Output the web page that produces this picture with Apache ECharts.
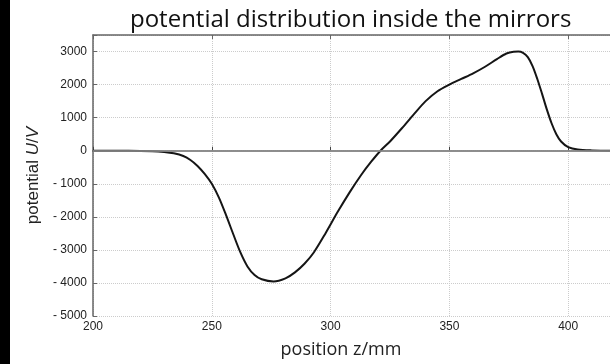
<!DOCTYPE html>
<html>
<head>
<meta charset="utf-8">
<script src="https://cdn.jsdelivr.net/npm/echarts@6/dist/echarts.min.js"></script>
<style>
  html, body { margin: 0; padding: 0; background: #fff; }
  #chart { width: 610px; height: 364px; }
</style>
</head>
<body>
<div id="chart"></div>
<script>
// position z in mm and potential U in V
const positions = [200, 215, 225, 230, 234, 238, 241, 244, 247, 250, 253, 256, 259, 262, 265, 268, 271, 276, 281, 285, 289, 293, 298, 303, 308, 313, 317, 321, 325, 330, 335, 340, 345, 350, 355, 360, 365, 370, 374, 377, 379, 381, 383, 385, 387, 389, 391, 393, 395, 397, 400, 404, 410, 420, 450]
const potentials = [0, 0, -15, -40, -80, -160, -280, -460, -700, -1000, -1420, -1950, -2520, -3070, -3500, -3760, -3890, -3955, -3860, -3680, -3420, -3070, -2480, -1850, -1260, -720, -340, 0, 280, 680, 1100, 1500, 1800, 2000, 2170, 2340, 2540, 2770, 2940, 2995, 3000, 2960, 2830, 2560, 2170, 1720, 1250, 830, 500, 280, 110, 35, 10, 0, 0]
const yTicks = [-5000, -4000, -3000, -2000, -1000, 0, 1000, 2000, 3000]

window.addEventListener("DOMContentLoaded", () => {
    const chart = echarts.init(document.getElementById('chart'))

    const labelFont = '"Liberation Sans", Arial, sans-serif'
    const titleFont = '"Open Sans", "Noto Sans", sans-serif'
    const frame = { show: true, lineStyle: { color: '#444', width: 1.5 } }

    chart.setOption({
        animation: false,
        title: {
            text: 'potential distribution inside the mirrors',
            left: 125,
            top: 3,
            textStyle: { fontFamily: titleFont, fontWeight: 'normal', fontSize: 24, color: '#111' }
        },
        // plot runs past the right edge of the picture, as in the reference crop
        grid: { left: 93, top: 35, right: -77, bottom: 48, outerBoundsMode: 'none', containLabel: false },
        xAxis: [
            {
                type: 'value',
                min: 200,
                max: 450,
                interval: 50,
                name: 'position z/mm',
                nameLocation: 'middle',
                nameGap: 25,
                nameTextStyle: { fontFamily: titleFont, fontSize: 18, color: '#222', padding: [0, 98, 0, 0] },
                axisLine: frame,
                axisTick: { inside: true, length: 4, lineStyle: { color: '#444' } },
                axisLabel: { fontFamily: labelFont, fontSize: 12, color: '#222', margin: 5 },
                splitLine: { show: true, lineStyle: { type: 'dotted', color: '#ccc' } }
            },
            {
                type: 'value',
                position: 'top',
                min: 200,
                max: 450,
                interval: 50,
                axisLine: { show: true, lineStyle: { color: '#666', width: 1.5 } },
                axisTick: { inside: true, length: 4, lineStyle: { color: '#666' } },
                axisLabel: { show: false },
                splitLine: { show: false }
            }
        ],
        yAxis: {
            type: 'value',
            min: -5000,
            max: 3500,
            interval: 1000,
            name: '{n|potential }{i|U}{n|/}{i|V}',
            nameLocation: 'middle',
            nameGap: 48,
            nameTextStyle: {
                rich: {
                    n: { fontFamily: labelFont, fontSize: 17, color: '#222' },
                    i: { fontFamily: labelFont, fontSize: 17, color: '#222', fontStyle: 'italic' }
                }
            },
            axisLine: { show: true, lineStyle: { color: '#666', width: 1.5 } },
            axisTick: { inside: true, length: 4, lineStyle: { color: '#666' } },
            axisLabel: {
                fontFamily: labelFont,
                fontSize: 12,
                color: '#222',
                margin: 6,
                formatter: v => yTicks.includes(v) ? (v < 0 ? '- ' + Math.abs(v) : String(v)) : ''
            },
            splitLine: { show: true, lineStyle: { type: 'dotted', color: '#ccc' } }
        },
        graphic: [
            { type: 'rect', left: 0, top: 0, shape: { width: 10, height: 364 }, style: { fill: '#000' }, z: 100 }
        ],
        series: [
            {
                type: 'line',
                data: positions.map((p, i) => [p, potentials[i]]),
                smooth: 0.3,
                symbol: 'none',
                lineStyle: { color: '#151515', width: 2 },
                markLine: {
                    silent: true,
                    symbol: 'none',
                    label: { show: false },
                    lineStyle: { color: '#999', width: 1.5, type: 'solid' },
                    data: [{ yAxis: 0 }]
                },
                z: 3
            }
        ]
    })
})
</script>
</body>
</html>
